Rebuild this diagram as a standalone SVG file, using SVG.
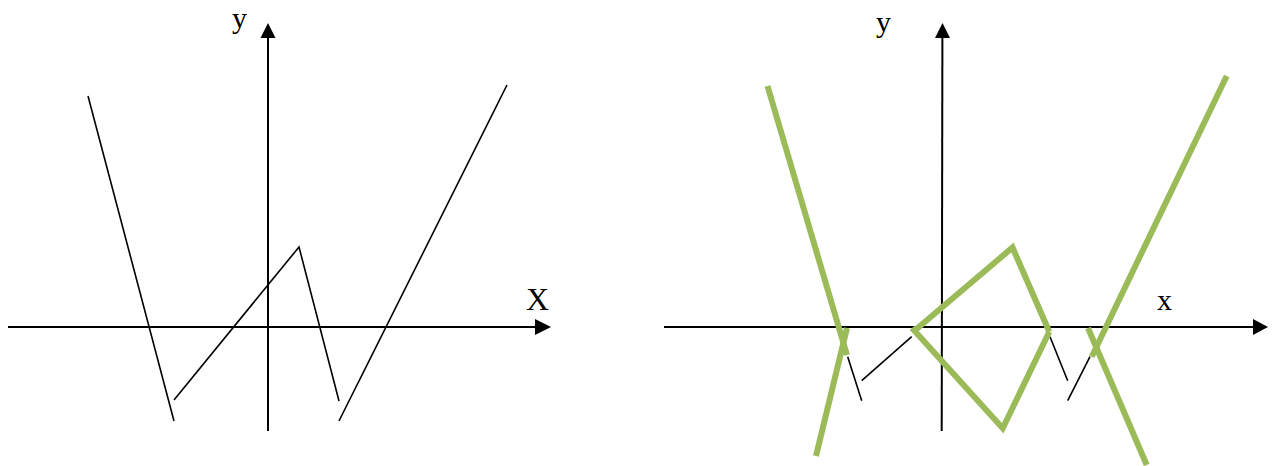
<svg xmlns="http://www.w3.org/2000/svg" width="1280" height="466" viewBox="0 0 1280 466">
<style>
.axis{stroke:#000;stroke-width:2;fill:none}
.curve{stroke:#000;stroke-width:1.6;fill:none}
.green{stroke:#9BBB59;stroke-width:6;fill:none;stroke-linejoin:miter}
.lbl{font-family:"Liberation Serif","Times New Roman",serif;fill:#000}
.head{fill:#000}
</style>
<rect width="1280" height="466" fill="#fff"/>
<g id="left-axes">
<line class="axis" x1="8" y1="327" x2="537" y2="327"/>
<polygon class="head" points="551,327 535,319 535,335"/>
<line class="axis" x1="268" y1="431" x2="268" y2="36"/>
<polygon class="head" points="268,23 260.5,38 275.5,38"/>
<text class="lbl" x="232" y="27.5" font-size="30">y</text>
<text class="lbl" x="526" y="310" font-size="32">X</text>
</g>
<g id="left-graph">
<line class="curve" x1="88" y1="96" x2="174" y2="421"/>
<polyline class="curve" points="174,400 299,247 339,401"/>
<line class="curve" x1="339" y1="421" x2="507" y2="85"/>
</g>
<g id="right-axes">
<line class="axis" x1="664" y1="327" x2="1255" y2="327"/>
<polygon class="head" points="1268,327 1253,319 1253,335"/>
<line class="axis" x1="941.7" y1="431" x2="942.4" y2="36"/>
<polygon class="head" points="942.5,23 935,38 950,38"/>
<text class="lbl" x="876" y="32" font-size="30">y</text>
<text class="lbl" x="1157" y="310" font-size="30">x</text>
</g>
<g id="right-black">
<line class="curve" x1="847.7" y1="356.7" x2="861.7" y2="400.7"/>
<line class="curve" x1="861.7" y1="380.7" x2="911.7" y2="336.7"/>
<line class="curve" x1="1050" y1="336.7" x2="1067.7" y2="380.7"/>
<line class="curve" x1="1067.7" y1="400.7" x2="1090" y2="356.7"/>
</g>
<g id="right-green">
<line class="green" x1="767.5" y1="86" x2="847" y2="355"/>
<line class="green" x1="816" y1="456" x2="847" y2="328"/>
<polyline class="green" points="913,332 1012.5,247.5 1049.3,331.7"/>
<polyline class="green" points="912,328 1002.7,428.3 1049.3,331.7"/>
<line class="green" x1="1226.7" y1="76" x2="1091.7" y2="356.7"/>
<line class="green" x1="1088" y1="328" x2="1146.7" y2="465"/>
</g>
</svg>
